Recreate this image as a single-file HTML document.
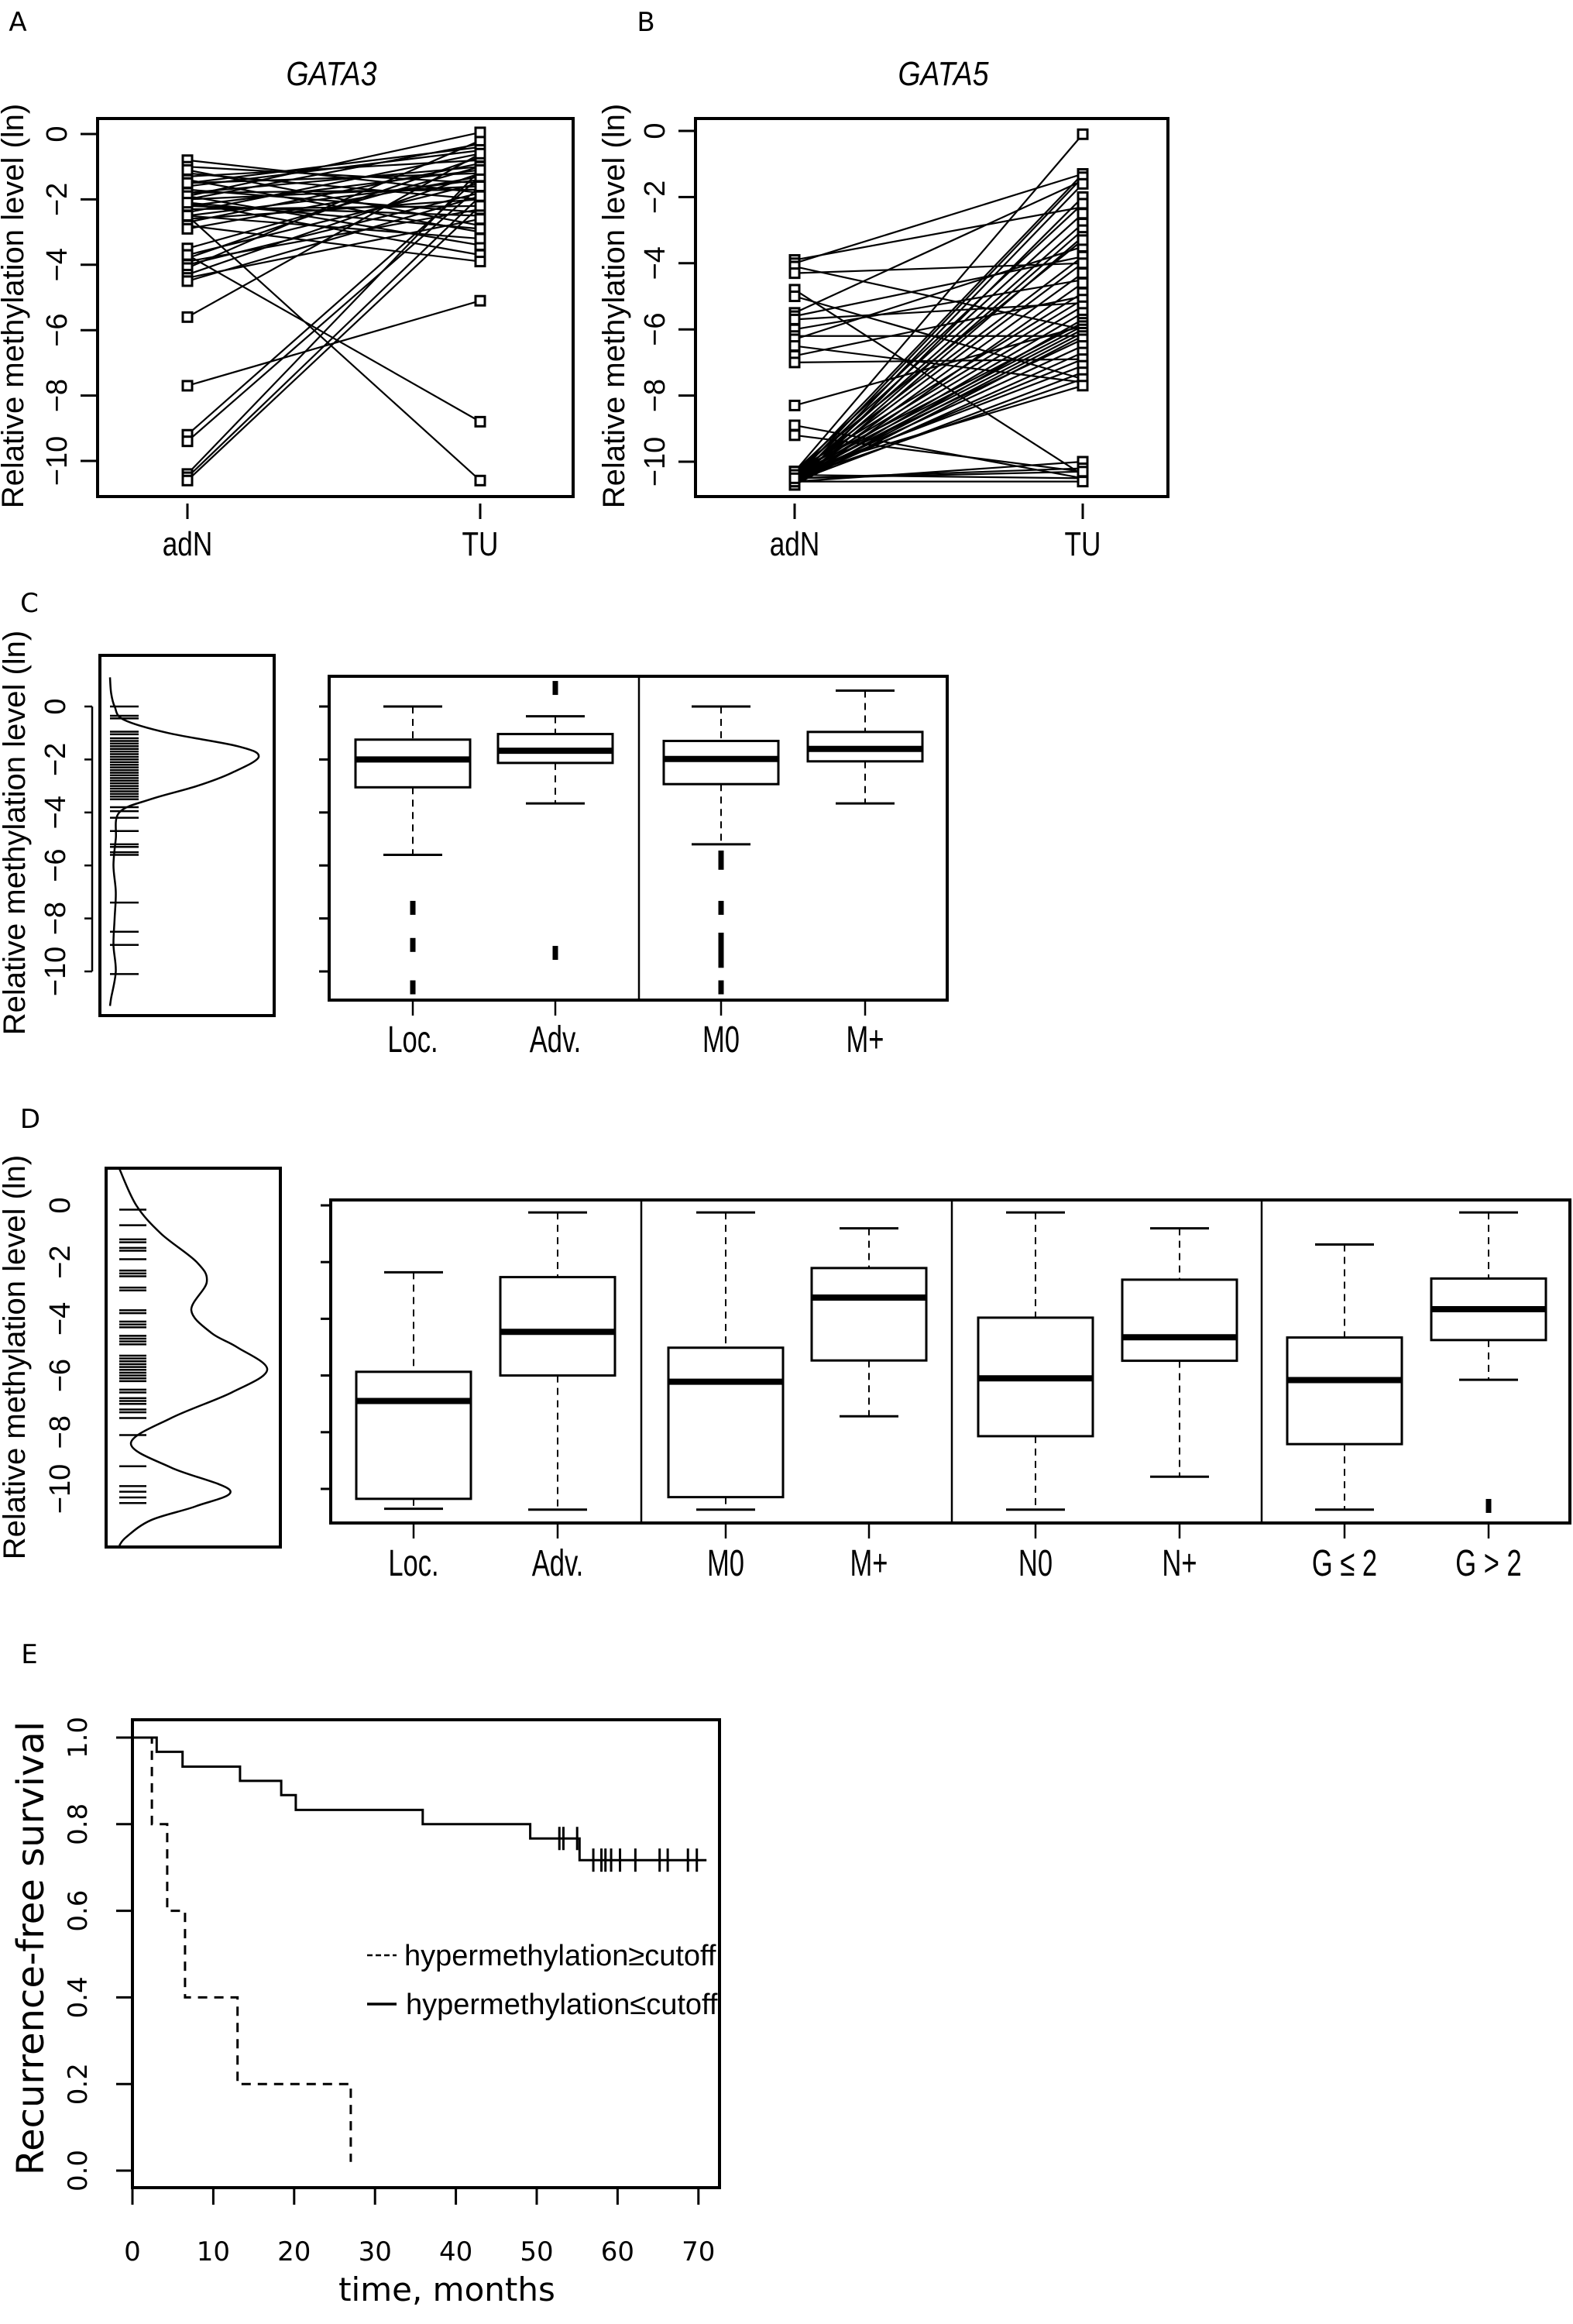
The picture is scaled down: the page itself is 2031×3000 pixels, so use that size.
<!DOCTYPE html>
<html><head><meta charset="utf-8"><style>
html,body{margin:0;padding:0;background:#fff;}
svg{display:block;}
text{font-family:"Liberation Sans",sans-serif;fill:#000;}
</style></head><body>
<svg id="fig" width="2031" height="3000" viewBox="0 0 2031 3000" xmlns="http://www.w3.org/2000/svg">
<rect x="0" y="0" width="2031" height="3000" fill="#fff"/>
</svg>
<script>
// ---------- DATA ----------
const g3Cats = ["adN", "TU"];
const g3adN = [-0.8,-1.0,-1.2,-1.3,-1.4,-1.5,-1.6,-1.7,-1.8,-1.9,-2.0,-2.0,-2.1,-2.2,-2.3,-2.4,-2.5,-2.6,-2.7,-2.8,-2.9,-1.1,-1.5,-1.8,-2.2,-2.5,-3.5,-3.7,-3.8,-3.9,-4.0,-4.1,-4.3,-4.4,-4.5,-5.6,-7.7,-9.2,-9.4,-10.4,-10.5,-10.6,-2.5,-3.7,-1.9,-2.1];
const g3TU  = [-1.8,-1.5,-2.0,-0.8,-3.0,-1.2,-0.5,-2.4,-1.0,-3.4,-0.3,-1.6,-3.7,-1.1,-2.2,-0.6,-1.4,-2.0,-0.9,-3.9,-1.3,-2.8,-0.4,-1.7,-2.5,-3.2,-1.0,-1.5,-0.7,-2.3,-1.8,-0.2,-1.2,-2.6,-1.9,-0.6,-5.1,-1.3,-1.6,-1.1,-1.9,-2.2,-10.6,-8.8,0.05,-2.9];
const g5adN = [-3.9,-4.0,-4.1,-4.3,-4.8,-5.0,-5.5,-5.6,-5.7,-6.0,-6.2,-6.3,-6.5,-6.8,-7.0,-8.3,-8.9,-9.2,
 -10.3,-10.4,-10.5,-10.6,-10.7,-10.3,-10.4,-10.5,-10.6,-10.7,-10.3,-10.4,-10.5,-10.6,-10.7,-10.3,-10.4,-10.5,-10.6,-10.7,-10.3,-10.4,-10.5,-10.6,-10.7,-10.4,-10.5,-10.6,-10.5,-10.4,-10.6,-10.5,-10.3,-10.6,-10.5,-10.4,-10.6,-10.5];
const g5TU  = [-2.3,-1.3,-6.0,-4.0,-10.4,-7.5,-1.5,-3.8,-5.2,-4.5,-6.2,-3.5,-7.6,-5.0,-6.9,-5.9,-10.5,-10.3,
 -0.1,-1.3,-1.4,-1.6,-2.0,-2.2,-2.5,-2.8,-3.0,-3.2,-3.3,-3.8,-4.0,-4.3,-4.6,-4.9,-5.1,-5.3,-5.5,-5.7,-5.8,-5.9,-6.0,-6.1,-6.2,-6.3,-6.5,-6.7,-6.9,-7.1,-7.3,-7.5,-7.7,-10.0,-10.2,-10.5,-10.6,-10.3];
const methTicks = [0,-2,-4,-6,-8,-10];

const cCats = ["Loc.","Adv.","M0","M+"];
const cLow  = [-5.6,-3.66,-5.2,-3.66];
const cQ1   = [-3.05,-2.13,-2.93,-2.07];
const cMed  = [-2.0,-1.67,-1.98,-1.6];
const cQ3   = [-1.25,-1.04,-1.3,-0.96];
const cHigh = [0,-0.37,0,0.6];
const cOut  = [[-7.6,-9.0,-10.6],[0.7,-9.3],[-5.7,-5.9,-7.6,-8.8,-9.2,-9.6,-10.6],[]];
const cRug  = [0,-0.35,-0.45,-0.95,-1.05,-1.2,-1.3,-1.4,-1.5,-1.6,-1.7,-1.8,-1.9,-2.0,-2.1,-2.2,-2.3,-2.4,-2.5,-2.6,-2.7,-2.8,-2.9,-3.0,-3.1,-3.2,-3.3,-3.4,-3.5,-3.8,-3.95,-4.2,-4.7,-5.2,-5.3,-5.5,-5.6,-7.4,-8.5,-9.0,-10.1];
const cDensLevel = [1.1,0.5,0,-0.5,-1.0,-1.5,-1.9,-2.5,-3.0,-3.5,-4.0,-5.0,-6.0,-7.0,-8.0,-9.0,-10.0,-11.0,-11.3];
const cDensVal   = [0,1,4,12,50,110,128,105,75,35,8,5,3,5,4,3,5,1,0];

const dCats = ["Loc.","Adv.","M0","M+","N0","N+","G \u2264 2","G > 2"];
const dLow  = [-10.7,-10.73,-10.73,-7.44,-10.73,-9.57,-10.73,-6.15];
const dQ1   = [-10.35,-6.0,-10.29,-5.47,-8.14,-5.48,-8.42,-4.75];
const dMed  = [-6.9,-4.46,-6.22,-3.25,-6.1,-4.65,-6.16,-3.66];
const dQ3   = [-5.87,-2.53,-5.02,-2.21,-3.96,-2.62,-4.66,-2.58];
const dHigh = [-2.36,-0.25,-0.25,-0.81,-0.25,-0.81,-1.38,-0.25];
const dOut  = [[],[],[],[],[],[],[],[-10.6]];
const dRug  = [-0.15,-0.7,-1.2,-1.3,-1.5,-1.6,-1.9,-2.3,-2.4,-2.5,-2.9,-3.0,-3.7,-3.8,-4.1,-4.2,-4.3,-4.6,-4.7,-4.8,-4.9,-5.3,-5.4,-5.5,-5.6,-5.7,-5.8,-5.9,-6.0,-6.1,-6.2,-6.5,-6.6,-6.8,-6.9,-7.0,-7.2,-7.3,-7.5,-8.1,-9.2,-9.9,-10.1,-10.3,-10.5];
const dDensLevel = [1.3,0,-1,-2,-2.7,-3.7,-4.5,-5.0,-5.8,-6.6,-7.5,-8.4,-9.25,-10.05,-10.6,-11.1,-11.7,-12.0];
const dDensVal   = [0,22,54,100,113,93,119,152,191,145,67,15,67,143,100,41,9,0];

const kmTicksX = [0,10,20,30,40,50,60,70];
const kmTicksY = [0,0.2,0.4,0.6,0.8,1.0];
const solidT = [0,3,6.2,13.3,18.4,20.2,35.9,49.2,55.3,71];
const solidS = [1.0,0.967,0.933,0.9,0.867,0.833,0.8,0.767,0.717,0.717];
const censT  = [52.8,53.3,55.0,57.0,58.0,58.5,59.2,60.3,62.2,65.2,66.2,68.7,69.8];
const dashT  = [0,2.4,4.3,6.5,13.0,27.0];
const dashS  = [1.0,0.8,0.6,0.4,0.2,0.02];

// ---------- HELPERS ----------
const NS = "http://www.w3.org/2000/svg";
const svg = document.getElementById("fig");
function mk(tag, attrs, name, parent) {
  const el = document.createElementNS(NS, tag);
  for (const k in attrs) el.setAttribute(k, attrs[k]);
  
  
  (parent || svg).appendChild(el);
  return el;
}
function txt(s, x, y, size, name, opt) {
  opt = opt || {};
  const t = mk("text", {x: x, y: y, "font-size": size, "text-anchor": opt.anchor || "middle"}, name);
  if (opt.rot) t.setAttribute("transform", "rotate(" + opt.rot + " " + x + " " + y + ")");
  if (opt.sx) t.setAttribute("transform", "translate(" + x + " " + y + ") scale(" + opt.sx + " 1) translate(" + (-x) + " " + (-y) + ")");
  if (opt.italic) t.setAttribute("font-style", "italic");
  if (opt.family) t.setAttribute("style", "font-family:" + opt.family);
  t.textContent = s;
  return t;
}
function line(x1, y1, x2, y2, w, name, dash) {
  const l = mk("line", {x1: x1, y1: y1, x2: x2, y2: y2, stroke: "#000", "stroke-width": w}, name);
  if (dash) l.setAttribute("stroke-dasharray", dash);
  return l;
}
function box(x1, y1, x2, y2, w, name) {
  return mk("rect", {x: x1, y: y1, width: x2 - x1, height: y2 - y1, fill: "none", stroke: "#000", "stroke-width": w}, name);
}
function smoothPath(pts) {
  let d = "M" + pts[0][0].toFixed(1) + "," + pts[0][1].toFixed(1);
  for (let i = 0; i < pts.length - 1; i++) {
    const p0 = pts[Math.max(0, i - 1)], p1 = pts[i], p2 = pts[i + 1], p3 = pts[Math.min(pts.length - 1, i + 2)];
    const c1 = [p1[0] + (p2[0] - p0[0]) / 6, p1[1] + (p2[1] - p0[1]) / 6];
    const c2 = [p2[0] - (p3[0] - p1[0]) / 6, p2[1] - (p3[1] - p1[1]) / 6];
    d += "C" + c1[0].toFixed(1) + "," + c1[1].toFixed(1) + " " + c2[0].toFixed(1) + "," + c2[1].toFixed(1) + " " + p2[0].toFixed(1) + "," + p2[1].toFixed(1);
  }
  return d;
}

// ---------- PANEL A / B ----------
function pairedPanel(letter, lx, title, tx, bx1, bx2, y0, unit, cx, adn, tu, tickX, tlX, ylabX) {
  const Y = v => y0 - v * unit;
  txt(letter, lx, 40, 34, "panel-label-" + letter.toLowerCase(), {family: "'DejaVu Sans',sans-serif"});
  txt(title, tx, 110, 44, "title-" + title.toLowerCase(), {italic: true, sx: 0.85});
  box(bx1, 153, bx2, 641, 4, "plot-frame-" + letter.toLowerCase());
  methTicks.forEach(v => {
    line(tickX, Y(v), bx1, Y(v), 3, "y-tick");
    txt(v === 0 ? "0" : "\u2212" + Math.abs(v), tlX, Y(v), 38, "y-tick-label", {rot: -90});
  });
  txt("Relative methylation level (ln)", ylabX, 395, 40, "y-axis-title", {rot: -90});
  for (let i = 0; i < adn.length; i++) {
    line(cx[0], Y(adn[i]), cx[1], Y(tu[i]), 2.2, "patient-line");
  }
  for (let i = 0; i < adn.length; i++) {
    mk("rect", {x: cx[0] - 6, y: Y(adn[i]) - 6, width: 12, height: 12, fill: "#fff", stroke: "#000", "stroke-width": 3}, "point-adn");
    mk("rect", {x: cx[1] - 6, y: Y(tu[i]) - 6, width: 12, height: 12, fill: "#fff", stroke: "#000", "stroke-width": 3}, "point-tu");
  }
  g3Cats.forEach((c, i) => {
    line(cx[i], 650, cx[i], 670, 3, "x-tick");
    txt(c, cx[i], 717, 44, "x-tick-label", {sx: 0.8});
  });
}
pairedPanel("A", 23, "GATA3", 428, 126, 740, 173, 42.2, [242, 620], g3adN, g3TU, 104, 86, 30);
pairedPanel("B", 834, "GATA5", 1218, 898, 1508, 169, 42.7, [1026, 1398], g5adN, g5TU, 876, 858, 806);

// ---------- DENSITY + BOXPLOT PANELS ----------
function densityPanel(y0, unit, fx1, fy1, fx2, fy2, rug, rx1, rx2, dl, dv, dScale, tlX, axisX) {
  const Y = v => y0 - v * unit;
  box(fx1, fy1, fx2, fy2, 4, "density-frame");
  rug.forEach(v => line(rx1, Y(v), rx2, Y(v), 2.5, "rug-mark"));
  const pts = dl.map((v, i) => [rx1 + dv[i] * dScale, Y(v)]);
  mk("path", {d: smoothPath(pts), fill: "none", stroke: "#000", "stroke-width": 2.5, "stroke-linejoin": "round"}, "density-curve");
  if (axisX) line(axisX, Y(0), axisX, Y(-10), 2.5, "y-axis-line");
  methTicks.forEach(v => {
    if (axisX) line(axisX - 10, Y(v), axisX, Y(v), 2.5, "y-tick");
    txt(v === 0 ? "0" : "\u2212" + Math.abs(v), tlX, Y(v), 38, "y-tick-label", {rot: -90});
  });
}
function boxPanel(y0, unit, bx1, by1, bx2, by2, divs, cx, cats, lo, q1, med, q3, hi, outs, labY) {
  const Y = v => y0 - v * unit;
  box(bx1, by1, bx2, by2, 4, "boxplot-frame");
  divs.forEach(x => line(x, by1, x, by2, 2.5, "group-divider"));
  methTicks.forEach(v => line(bx1 - 13, Y(v), bx1, Y(v), 3, "y-tick"));
  cats.forEach((c, i) => {
    const x = cx[i];
    line(x, Y(hi[i]), x, Y(q3[i]), 2, "whisker-upper", "9,7");
    line(x, Y(q1[i]), x, Y(lo[i]), 2, "whisker-lower", "9,7");
    line(x - 38, Y(hi[i]), x + 38, Y(hi[i]), 3, "whisker-cap");
    line(x - 38, Y(lo[i]), x + 38, Y(lo[i]), 3, "whisker-cap");
    mk("rect", {x: x - 74, y: Y(q3[i]), width: 148, height: Y(q1[i]) - Y(q3[i]), fill: "#fff", stroke: "#000", "stroke-width": 3}, "box-" + c.toLowerCase().replace(/[^a-z0-9]+/g, ""));
    line(x - 74, Y(med[i]), x + 74, Y(med[i]), 8, "median-line");
    outs[i].forEach(o => mk("rect", {x: x - 3.5, y: Y(o) - 9, width: 7, height: 18, fill: "#000"}, "outlier"));
    line(x, by2, x, by2 + 20, 2.5, "x-tick");
    txt(c, x, labY, 48, "x-tick-label", {sx: 0.72});
  });
}
txt("C", 38, 790, 34, "panel-label-c", {family: "'DejaVu Sans',sans-serif"});
densityPanel(912, 34.2, 129, 846, 354, 1311, cRug, 142, 179, cDensLevel, cDensVal, 1.5, 84, 119);
txt("Relative methylation level (ln)", 32, 1075, 40, "y-axis-title", {rot: -90});
boxPanel(912, 34.2, 425, 873, 1223, 1291, [825], [533, 717, 931, 1117], cCats, cLow, cQ1, cMed, cQ3, cHigh, cOut, 1358);

txt("D", 39, 1456, 34, "panel-label-d", {family: "'DejaVu Sans',sans-serif"});
densityPanel(1556, 36.6, 137, 1508, 362, 1997, dRug, 154, 189, dDensLevel, dDensVal, 1.0, 90, 0);
txt("Relative methylation level (ln)", 32, 1752, 40, "y-axis-title", {rot: -90});
boxPanel(1556, 36.6, 427, 1549, 2027, 1966, [828, 1229, 1629], [534, 720, 937, 1122, 1337, 1523, 1736, 1922], dCats, dLow, dQ1, dMed, dQ3, dHigh, dOut, 2034);

// ---------- PANEL E ----------
const EX = t => 171 + t * 10.44;
const EY = s => 2802 - s * 559;
const ef = "'DejaVu Sans',sans-serif";
txt("E", 38, 2147, 34, "panel-label-e", {family: ef});
box(171, 2220, 929, 2824, 4, "km-frame");
kmTicksX.forEach(t => {
  line(EX(t), 2824, EX(t), 2846, 3, "x-tick");
  txt(String(t), EX(t), 2918, 34, "x-tick-label", {family: ef});
});
kmTicksY.forEach(s => {
  line(150, EY(s), 171, EY(s), 3, "y-tick");
  txt(s.toFixed(1), 112, EY(s), 34, "y-tick-label", {rot: -90, family: ef});
});
txt("time, months", 577, 2970, 42, "x-axis-title", {family: ef});
txt("Recurrence-free survival", 56, 2515, 48, "y-axis-title", {rot: -90, family: ef});
function stepPath(ts, ss) {
  let d = "M" + EX(ts[0]) + "," + EY(ss[0]);
  for (let i = 1; i < ts.length; i++) d += "H" + EX(ts[i]).toFixed(1) + "V" + EY(ss[i]).toFixed(1);
  return d;
}
mk("path", {d: stepPath(solidT, solidS), fill: "none", stroke: "#000", "stroke-width": 3}, "km-curve-below-cutoff");
const lastS = solidS[solidS.length - 1];
censT.forEach(t => {
  const s = t < solidT[8] ? solidS[7] : lastS;
  line(EX(t), EY(s) - 15, EX(t), EY(s) + 15, 3, "censor-mark");
});
mk("path", {d: stepPath(dashT, dashS), fill: "none", stroke: "#000", "stroke-width": 3, "stroke-dasharray": "12,9"}, "km-curve-above-cutoff");
line(474, 2524, 512, 2524, 2.5, "legend-key-dashed", "7,4");
txt("hypermethylation\u2265cutoff", 522, 2537, 38, "legend-entry-above", {anchor: "start"});
line(474, 2587, 512, 2587, 3.5, "legend-key-solid");
txt("hypermethylation\u2264cutoff", 524, 2600, 38, "legend-entry-below", {anchor: "start"});
</script>
</body></html>
